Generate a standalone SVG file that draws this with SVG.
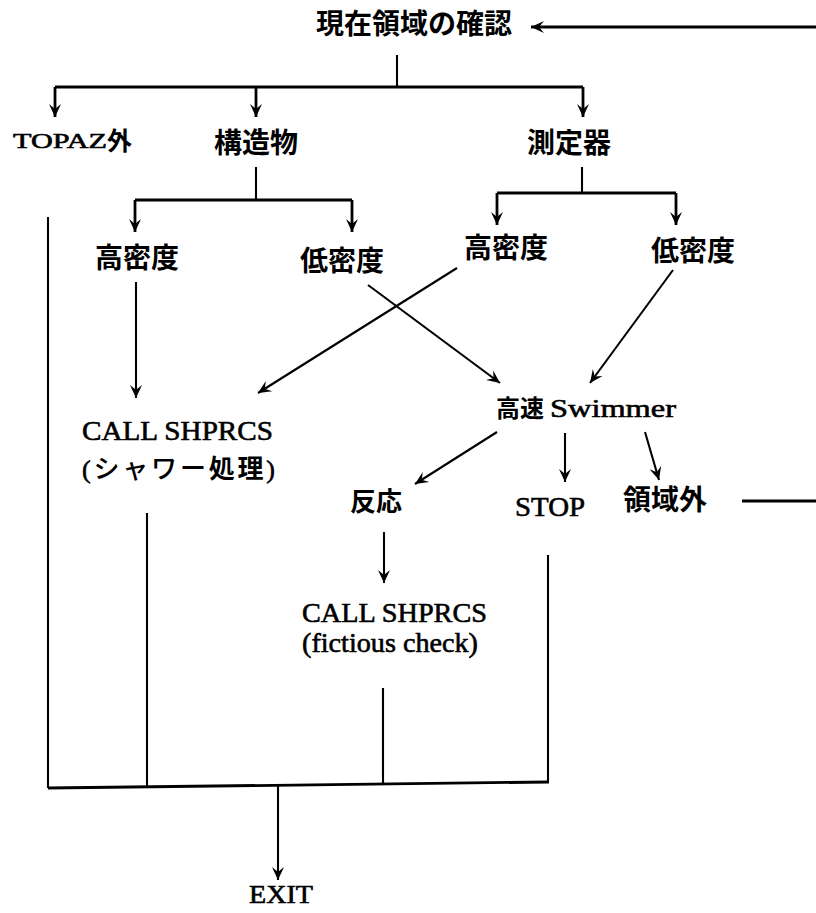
<svg xmlns="http://www.w3.org/2000/svg" width="816" height="913" viewBox="0 0 816 913">
<defs>
<style>
.jp{font-family:"Noto Sans CJK JP","Noto Sans CJK SC",sans-serif;font-weight:700;fill:#000}
.jpn{font-family:"Noto Sans CJK JP","Noto Sans CJK SC",sans-serif;font-weight:500;fill:#000}
.en{font-family:"Liberation Serif","Times New Roman",serif;fill:#000;stroke:#000;stroke-width:0.6}
.ln{fill:none;stroke:#000;stroke-width:2.8;stroke-linecap:butt}
.thin{fill:none;stroke:#000;stroke-width:2.1}
.ar{marker-end:url(#ah)}
</style>
<marker id="ah" viewBox="-14 -7 15 14" refX="0" refY="0" markerWidth="15" markerHeight="14" orient="auto" markerUnits="userSpaceOnUse">
<path d="M-13,-6 L0,0 L-13,6 L-8,0 z" fill="#000"/>
</marker>
</defs>
<rect width="816" height="913" fill="#fff"/>

<g id="connectors">
<path class="ln ar" d="M816,27 L531,27"/>
<path class="ln" d="M742,501 L816,501"/>
<path class="thin" d="M397,55 V86"/>
<path class="ln" d="M55,87 H583"/>
<path class="ln ar" d="M55,87 V117"/>
<path class="ln ar" d="M256,87 V117"/>
<path class="ln ar" d="M583,87 V117"/>
<path class="thin" d="M256,167 V200"/>
<path class="ln" d="M135,200 H352"/>
<path class="ln ar" d="M135,200 V232"/>
<path class="ln ar" d="M352,200 V232"/>
<path class="thin" d="M582,167 V193"/>
<path class="ln" d="M497,193 H676"/>
<path class="ln ar" d="M497,193 V225"/>
<path class="ln ar" d="M676,193 V225"/>
<path class="thin" d="M48,217 V788"/>
<path class="thin ar" d="M136,282 V398"/>
<path class="thin ar" d="M457,268 L258,393"/>
<path class="thin ar" d="M368,285 L500,383"/>
<path class="thin ar" d="M673,270 L590,383"/>
<path class="thin ar" d="M497,432 L415,484"/>
<path class="thin ar" d="M565,433 V482"/>
<path class="thin ar" d="M645,432 L659,480"/>
<path class="thin ar" d="M384,532 V583"/>
<path class="thin" d="M147,513 V787"/>
<path class="thin" d="M383,688 V785"/>
<path class="thin" d="M548,555 V782"/>
<path class="ln" d="M48,788 L549,782"/>
<path class="thin ar" d="M278,786 V880"/>
</g>

<g id="n-check"><text class="jp" x="316" y="34" font-size="28">現在領域の確認</text></g>
<g id="n-topaz"><text class="en" x="13" y="148" font-size="22" textLength="94" lengthAdjust="spacingAndGlyphs">TOPAZ</text><text class="jp" x="107" y="150" font-size="25">外</text></g>
<g id="n-struct"><text class="jp" x="214" y="153" font-size="28">構造物</text></g>
<g id="n-meas"><text class="jp" x="527" y="153" font-size="28">測定器</text></g>
<g id="n-s-high"><text class="jp" x="95" y="268" font-size="28">高密度</text></g>
<g id="n-s-low"><text class="jp" x="300" y="271" font-size="28">低密度</text></g>
<g id="n-m-high"><text class="jp" x="464" y="258" font-size="28">高密度</text></g>
<g id="n-m-low"><text class="jp" x="651" y="261" font-size="28">低密度</text></g>
<g id="n-shower"><text class="en" x="82" y="440" font-size="27" textLength="191" lengthAdjust="spacingAndGlyphs">CALL SHPRCS</text><text x="82" y="478" font-size="26" textLength="193"><tspan class="en">(</tspan><tspan class="jpn">シャワー</tspan><tspan class="jp">処理</tspan><tspan class="en">)</tspan></text></g>
<g id="n-swimmer"><text class="jp" x="496" y="417" font-size="24">高速</text><text class="en" x="550" y="417" font-size="26" textLength="126" lengthAdjust="spacingAndGlyphs">Swimmer</text></g>
<g id="n-react"><text class="jp" x="350" y="511" font-size="26">反応</text></g>
<g id="n-stop"><text class="en" x="515" y="516" font-size="28" textLength="70" lengthAdjust="spacingAndGlyphs">STOP</text></g>
<g id="n-out"><text class="jp" x="623" y="510" font-size="28">領域外</text></g>
<g id="n-fict"><text class="en" x="302" y="622" font-size="27" textLength="185" lengthAdjust="spacingAndGlyphs">CALL SHPRCS</text><text class="en" x="302" y="652" font-size="27" textLength="176" lengthAdjust="spacingAndGlyphs">(fictious check)</text></g>
<g id="n-exit"><text class="en" x="249" y="903" font-size="25" textLength="64" lengthAdjust="spacingAndGlyphs">EXIT</text></g>
</svg>
